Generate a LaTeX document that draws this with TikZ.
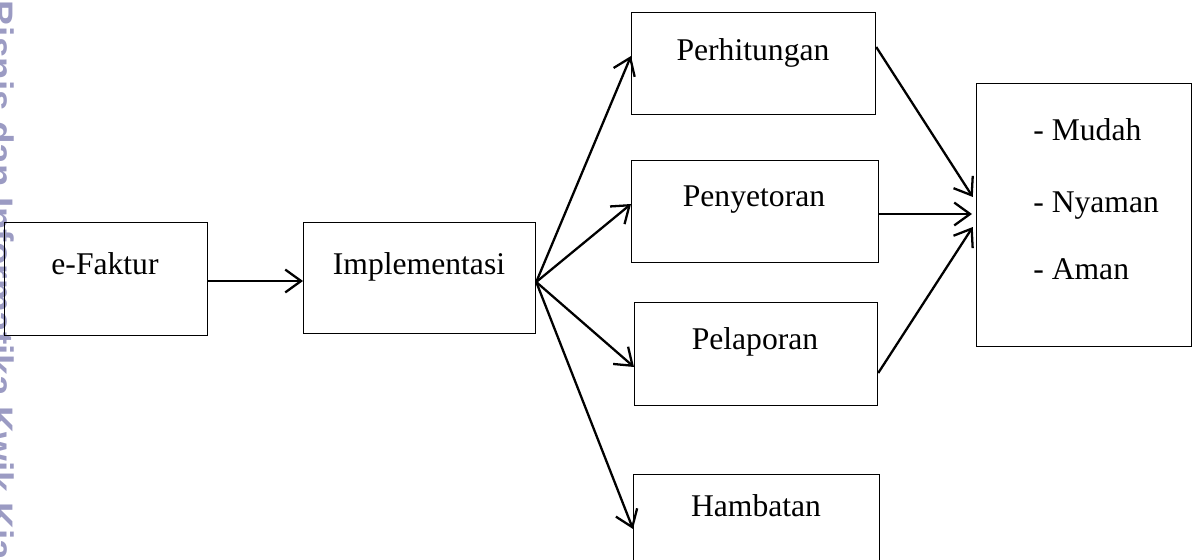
\documentclass[tikz,border=0pt]{standalone}
\usepackage{fontspec}
\setmainfont{Liberation Serif}
\newfontfamily\wmfont{Liberation Sans}
\usetikzlibrary{arrows.meta}
\definecolor{wmcol}{RGB}{155,155,195}
\tikzset{
  box/.style={draw, line width=0.7pt, inner sep=0pt, anchor=north west},
  txt/.style={font=\fontsize{18pt}{22pt}\selectfont, inner sep=0pt},
  arr/.style={line width=1.3pt, -{Straight Barb[length=9pt,width=13pt,line width=1.3pt]}},
  wm/.style={font=\wmfont\bfseries\fontsize{21pt}{24pt}\selectfont, text=wmcol, inner sep=0pt}
}
\begin{document}
\begin{tikzpicture}[x=0.02cm,y=-0.02cm]
\useasboundingbox (0,0) rectangle (1197,560);
\clip (0,0) rectangle (1197,560);
% watermark
\node[wm, rotate=-90, anchor=base west] (wm) at (-12,0) {Bisnis dan Informatika Kwik Kian Gie};
% boxes
\node[box, minimum width=203*0.02cm, minimum height=113*0.02cm] (ef) at (4,222) {};
\node[box, minimum width=232*0.02cm, minimum height=111*0.02cm] (imp) at (303,222) {};
\node[box, minimum width=244*0.02cm, minimum height=102*0.02cm] (per) at (631,12) {};
\node[box, minimum width=247*0.02cm, minimum height=102*0.02cm] (pen) at (631,160) {};
\node[box, minimum width=243*0.02cm, minimum height=103*0.02cm] (pel) at (634,302) {};
\node[box, minimum width=246*0.02cm, minimum height=100*0.02cm] (ham) at (633,474) {};
\node[box, minimum width=215*0.02cm, minimum height=263*0.02cm] (res) at (976,83) {};
% texts
\node[txt, anchor=base] (eft) at (105,275) {e-Faktur};
\node[txt, anchor=base] (impt) at (419,275) {Implementasi};
\node[txt, anchor=base] (pert) at (753,61) {Perhitungan};
\node[txt, anchor=base] (pent) at (754,207) {Penyetoran};
\node[txt, anchor=base] (pelt) at (755,350) {Pelaporan};
\node[txt, anchor=base] (hamt) at (756,517) {Hambatan};
\node[txt, anchor=base west] (r1) at (1033,141) {- Mudah};
\node[txt, anchor=base west] (r2) at (1033,213) {- Nyaman};
\node[txt, anchor=base west] (r3) at (1033,280) {- Aman};
% connectors
\coordinate (apex) at (imp.east |- 0,282);
\draw[arr] (ef.east |- 0,281) -- (imp.west |- 0,281);
\draw[arr] (apex) -- (per.west |- 0,56);
\draw[arr] (apex) -- (pen.west |- 0,204);
\draw[arr] (apex) -- (pel.west |- 0,367);
\draw[arr] (apex) -- (ham.west |- 0,529);
\draw[arr, shorten >=6*0.02cm] (per.east |- 0,47) -- (res.west |- 0,202);
\draw[arr, shorten >=4*0.02cm] (pen.east |- 0,214) -- (res.west |- 0,214);
\draw[arr, shorten >=6*0.02cm] (pel.east |- 0,373) -- (res.west |- 0,222);
\end{tikzpicture}
\end{document}
